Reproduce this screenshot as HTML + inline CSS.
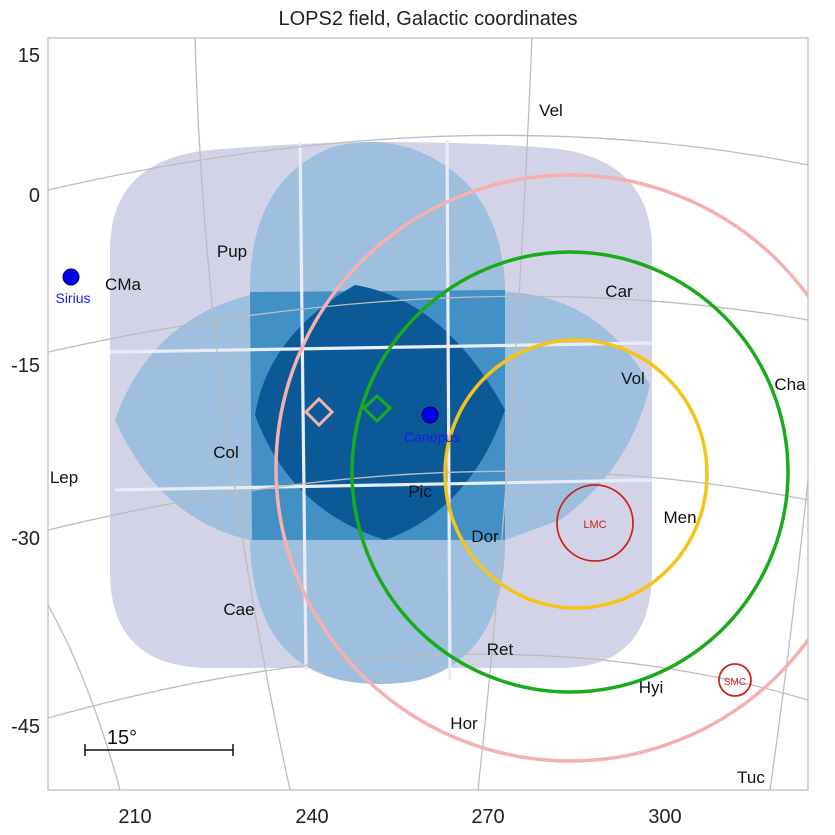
<!DOCTYPE html>
<html><head><style>
html,body{margin:0;padding:0;background:#fff;}
svg{display:block;font-family:"Liberation Sans","DejaVu Sans",sans-serif;}
</style></head><body>
<svg width="835" height="835" viewBox="0 0 835 835" xmlns="http://www.w3.org/2000/svg">
<text x="428" y="25" font-size="20" text-anchor="middle" fill="#222">LOPS2 field, Galactic coordinates</text>
<rect x="48" y="38" width="760" height="752" fill="#fff" stroke="#c8c8c8" stroke-width="1.5"/>
<clipPath id="c"><rect x="48" y="38" width="760" height="752"/></clipPath>
<g clip-path="url(#c)">
<path d="M110,250 Q110,160 210,150 Q380,135 550,148 Q652,158 652,250 L652,575 Q650,668 560,668 L210,668 Q112,668 110,575 Z" fill="#d3d3e8"/>
<path d="M250,285 Q252,180 330,148 Q370,136 410,148 Q500,180 505,285 L505,540 Q505,655 420,680 Q380,688 340,680 Q252,658 250,540 Z" fill="#9ebfdd"/>
<path d="M250,295 L505,292 Q600,295 650,385 Q630,470 560,520 L505,540 L250,540 Q160,520 115,420 Q150,320 250,295 Z" fill="#9ebfdd"/>
<path d="M250,292 L505,290 L505,540 L252,540 Z" fill="#4390c6"/>
<path d="M255,415 Q268,335 355,285 Q445,300 505,410 Q470,510 385,540 Q290,510 255,415 Z" fill="#0b5a97"/>
<g stroke="#e8ecf6" stroke-width="3.2" fill="none">
<line x1="300" y1="142" x2="306" y2="670"/>
<line x1="447" y1="140" x2="450" y2="680"/>
<line x1="110" y1="352" x2="652" y2="343"/>
<line x1="115" y1="490" x2="652" y2="480"/>
</g>
<g stroke="#bdbdbd" stroke-width="1.3" fill="none">
<path d="M48,190 Q460,95 808,165"/>
<path d="M48,352 Q460,260 808,320"/>
<path d="M48,530 Q460,430 808,500"/>
<path d="M48,718 Q470,600 808,700"/>
<path d="M195,38 Q205,400 290,790"/>
<path d="M532,38 Q515,450 478,790"/>
<path d="M48,605 Q90,680 120,790"/>
<path d="M808,480 Q790,650 770,790"/>
</g>
<ellipse cx="570" cy="468" rx="294" ry="293" fill="none" stroke="#f6b0b0" stroke-width="3.5"/>
<ellipse cx="570" cy="472" rx="218" ry="220" fill="none" stroke="#1aab1a" stroke-width="3.5"/>
<ellipse cx="576" cy="474" rx="131" ry="134" fill="none" stroke="#f6c419" stroke-width="3.5"/>
<circle cx="595" cy="523" r="38" fill="none" stroke="#cc2222" stroke-width="1.8"/>
<circle cx="735" cy="680" r="16" fill="none" stroke="#cc2222" stroke-width="1.8"/>
<text x="595" y="528" font-size="11" fill="#cc2222" text-anchor="middle">LMC</text>
<text x="735" y="685" font-size="10" fill="#cc2222" text-anchor="middle">SMC</text>
<path d="M319,399 L332,412 L319,425 L306,412 Z" fill="none" stroke="#f6b0b0" stroke-width="3"/>
<path d="M377,396 L390,408 L377,421 L364,408 Z" fill="none" stroke="#1aab1a" stroke-width="3"/>
<circle cx="430" cy="415" r="8" fill="#0000ee" stroke="#000055" stroke-width="1"/>
<text x="432" y="442" font-size="14" fill="#1a1aee" text-anchor="middle">Canopus</text>
<circle cx="71" cy="277" r="8" fill="#0000ee" stroke="#000055" stroke-width="1"/>
<text x="73" y="303" font-size="14" fill="#1a1aee" text-anchor="middle">Sirius</text>
<g font-size="17" fill="#111" text-anchor="middle">
<text x="551" y="116">Vel</text>
<text x="232" y="257">Pup</text>
<text x="123" y="290">CMa</text>
<text x="619" y="297">Car</text>
<text x="633" y="384">Vol</text>
<text x="790" y="390">Cha</text>
<text x="226" y="458">Col</text>
<text x="64" y="483">Lep</text>
<text x="420" y="497">Pic</text>
<text x="485" y="542">Dor</text>
<text x="680" y="523">Men</text>
<text x="239" y="615">Cae</text>
<text x="500" y="655">Ret</text>
<text x="651" y="693">Hyi</text>
<text x="464" y="729">Hor</text>
<text x="751" y="783">Tuc</text>
</g>
</g>
<g stroke="#111" stroke-width="1.5">
<line x1="85" y1="750" x2="233" y2="750"/>
<line x1="85" y1="744" x2="85" y2="756"/>
<line x1="233" y1="744" x2="233" y2="756"/>
</g>
<text x="122" y="744" font-size="20" fill="#111" text-anchor="middle">15°</text>
<g font-size="20" fill="#222">
<text x="40" y="62" text-anchor="end">15</text>
<text x="40" y="202" text-anchor="end">0</text>
<text x="40" y="372" text-anchor="end">-15</text>
<text x="40" y="545" text-anchor="end">-30</text>
<text x="40" y="733" text-anchor="end">-45</text>
<g text-anchor="middle">
<text x="135" y="823">210</text>
<text x="312" y="823">240</text>
<text x="488" y="823">270</text>
<text x="665" y="823">300</text>
</g>
</g>
</svg>
</body></html>
